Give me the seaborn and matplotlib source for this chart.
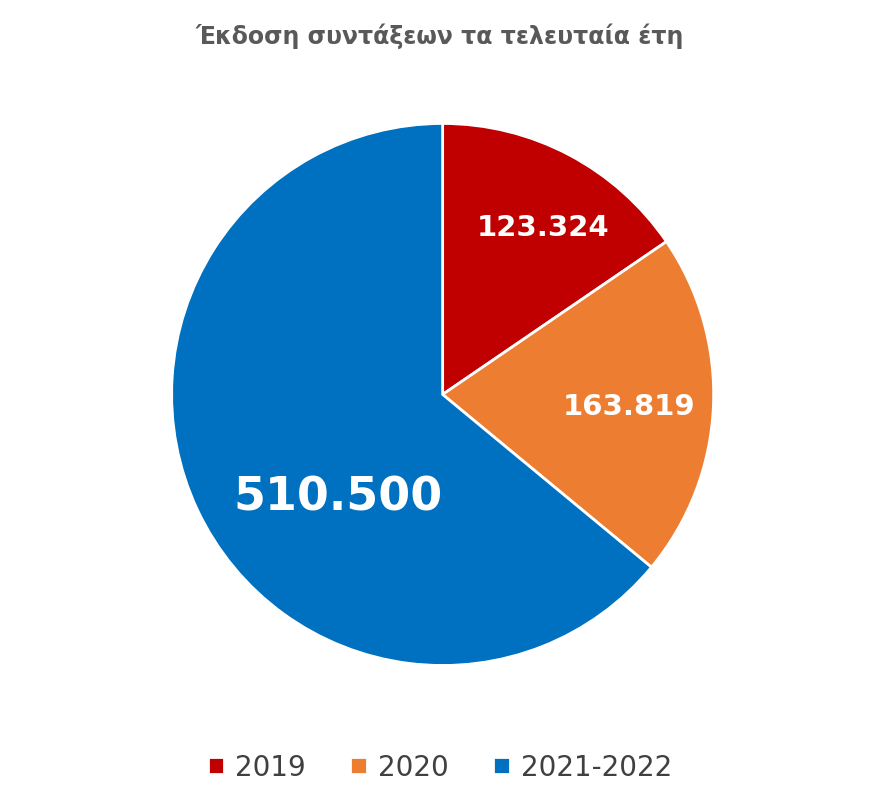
import numpy as np
import matplotlib
matplotlib.use("Agg")
import matplotlib.pyplot as plt
import seaborn as sns

# data
categories = ["2019", "2020", "2021-2022"]
values = [123324, 163819, 510500]
value_labels = ["123.324", "163.819", "510.500"]
colors = ["#C00000", "#ED7D31", "#0070C0"]

sns.set_theme(style="white")
plt.rcParams['font.family'] = ['DejaVu Sans']

fig = plt.figure(figsize=(8.8, 8.03), dpi=100)
ax = fig.add_axes([0.195, 0.17, 0.616, 0.675])

wedges, _ = ax.pie(values, colors=colors, startangle=90, counterclock=False,
                   wedgeprops=dict(edgecolor="white", linewidth=2))
ax.set_aspect("equal")
ax.set_xlim(-1.0, 1.0)
ax.set_ylim(-1.0, 1.0)

# label placement along each wedge's mid angle (with small angular nudge)
dist = [0.72, 0.69, 0.54]
shift = [-3, -1, 19]
sizes = [21, 21, 33]
for w, lab, d, sh, s in zip(wedges, value_labels, dist, shift, sizes):
    ang = np.deg2rad((w.theta1 + w.theta2) / 2 + sh)
    ax.text(d * np.cos(ang), d * np.sin(ang), lab, color="white",
            fontsize=s, fontweight="bold", ha="center", va="center")

fig.text(0.5, 0.955, "Έκδοση συντάξεων τα τελευταία έτη", ha="center", va="center",
         fontsize=17, fontweight="bold", color="#595959")

fig.legend(wedges, categories, loc="center", bbox_to_anchor=(0.5, 0.043), ncol=3,
           frameon=False, fontsize=20, handlelength=0.6, handleheight=0.6,
           handletextpad=0.4, columnspacing=1.6, labelcolor="#404040")

fig.savefig("out.png", dpi=100)
